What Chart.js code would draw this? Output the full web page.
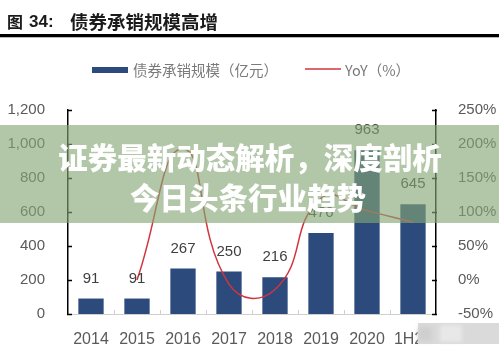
<!DOCTYPE html>
<html lang="zh-CN">
<head>
<meta charset="utf-8">
<title>债券承销规模高增</title>
<script src="https://cdn.jsdelivr.net/npm/chart.js@4.4.1/dist/chart.umd.min.js"></script>
<style>
  html, body { margin: 0; padding: 0; background: #fff; }
  #wrap { position: relative; width: 499px; height: 350px; }
</style>
</head>
<body>
<div id="wrap"><canvas id="bondChart" width="499" height="350"></canvas></div>
<script>
// data
const years = ['2014', '2015', '2016', '2017', '2018', '2019', '2020', '1H21'];
const issuance = [91, 91, 267, 250, 216, 476, 963, 645];   // 亿元
const yoy = [null, 0, 193, -6, -14, 120, 102, 85];          // %
const leftTicks = [0, 200, 400, 600, 800, 1000, 1200];
const rightTicks = [-50, 0, 50, 100, 150, 200, 250];

const NAVY = '#2d4a7c';
const RED = '#d2343e';
const CN = '"Noto Sans CJK SC", "Noto Sans", sans-serif';
const NUM = '"Liberation Sans", Arial, sans-serif';
const TICK_GREY = '#5a5a5a';

// titles, legend, value labels, tick marks and the caption band
const decor = {
    id: 'decor',
    afterDatasetsDraw(chart) {
        const ctx = chart.ctx;
        const area = chart.chartArea;
        ctx.save();

        // bar values
        const bars = chart.getDatasetMeta(0).data;
        ctx.font = '15px ' + NUM;
        ctx.fillStyle = '#3f3f3f';
        ctx.textAlign = 'center';
        ctx.textBaseline = 'middle';
        bars.forEach((bar, i) => ctx.fillText(issuance[i], bar.x, bar.y - 20));

        // short inward ticks on both value axes
        ctx.strokeStyle = '#000';
        ctx.lineWidth = 1.5;
        const yl = chart.scales.y, yr = chart.scales.y1;
        yl.ticks.forEach(t => {
            const p = Math.round(yl.getPixelForValue(t.value)) + 0.5;
            ctx.beginPath(); ctx.moveTo(area.left - 1, p); ctx.lineTo(area.left + 4, p); ctx.stroke();
        });
        yr.ticks.forEach(t => {
            const p = Math.round(yr.getPixelForValue(t.value)) + 0.5;
            ctx.beginPath(); ctx.moveTo(area.right - 4, p); ctx.lineTo(area.right + 1, p); ctx.stroke();
        });

        // category separators on the base line
        const xs = chart.scales.x;
        ctx.strokeStyle = '#cfcfcf';
        ctx.lineWidth = 1;
        for (let i = 1; i < years.length; i++) {
            const p = Math.round((xs.getPixelForValue(i - 1) + xs.getPixelForValue(i)) / 2) + 0.5;
            ctx.beginPath(); ctx.moveTo(p, area.bottom); ctx.lineTo(p, area.bottom - 4); ctx.stroke();
        }
        ctx.restore();
    },
    afterDraw(chart) {
        const ctx = chart.ctx;
        const W = chart.width;
        ctx.save();

        // heading
        ctx.fillStyle = '#1b1b1b';
        ctx.textBaseline = 'middle';
        ctx.textAlign = 'left';
        ctx.font = 'bold 16px ' + CN;
        ctx.fillText('图', 7, 22);
        ctx.font = 'bold 17px "Liberation Sans", Arial, sans-serif';
        ctx.fillText('34:', 29, 22);
        ctx.font = 'bold 18.5px ' + CN;
        ctx.fillText('债券承销规模高增', 70, 22);
        ctx.fillStyle = '#000';
        ctx.fillRect(0, 34, W, 3);
        ctx.fillStyle = '#b8b8b8';
        ctx.fillRect(0, 37, W, 1);

        // legend
        const ds = chart.data.datasets;
        ctx.fillStyle = ds[0].backgroundColor;
        ctx.fillRect(92, 67, 36, 6);
        ctx.fillStyle = '#7a7a7a';
        ctx.font = '14.5px ' + CN;
        ctx.fillText(ds[0].label, 133, 70);
        ctx.strokeStyle = ds[1].borderColor;
        ctx.lineWidth = 1.5;
        ctx.beginPath(); ctx.moveTo(305, 69); ctx.lineTo(341, 69); ctx.stroke();
        ctx.fillText(ds[1].label, 345, 70);

        // caption band over the middle of the plot
        ctx.fillStyle = 'rgba(132, 167, 116, 0.63)';
        ctx.fillRect(0, 125, W, 98);
        ctx.fillStyle = '#fff';
        ctx.textAlign = 'center';
        ctx.font = '900 29.5px ' + CN;
        ctx.fillText('证券最新动态解析，深度剖析', 250, 158);
        ctx.fillText('今日头条行业趋势', 248, 198);

        // smudged corner mark
        ctx.fillStyle = '#dadada';
        ctx.fillRect(418, 323, 81, 21);
        ctx.filter = 'blur(2px)';
        ctx.fillStyle = '#e8e8e8';
        ctx.fillRect(440, 325, 22, 17);
        ctx.fillStyle = '#cfcfcf';
        ctx.fillRect(418, 327, 14, 14);
        ctx.filter = 'none';
        ctx.restore();
    }
};

new Chart(document.getElementById('bondChart'), {
    type: 'bar',
    data: {
        labels: years,
        datasets: [{
            label: '债券承销规模（亿元）',
            data: issuance,
            backgroundColor: NAVY,
            categoryPercentage: 1,
            barPercentage: 0.55,
            yAxisID: 'y',
            order: 2
        }, {
            type: 'line',
            label: 'YoY（%）',
            data: yoy,
            borderColor: RED,
            borderWidth: 1.5,
            backgroundColor: RED,
            pointRadius: 0,
            tension: 0.5,
            yAxisID: 'y1',
            order: 1
        }]
    },
    options: {
        responsive: false,
        animation: false,
        devicePixelRatio: 1,
        layout: { padding: { top: 110, left: 0, right: 0, bottom: 0 } },
        plugins: {
            legend: { display: false },
            tooltip: { enabled: false }
        },
        scales: {
            x: {
                grid: { display: false },
                border: { color: '#cfcfcf', width: 1 },
                ticks: {
                    color: TICK_GREY, font: { family: NUM, size: 16 }, padding: 8,
                    maxRotation: 0, minRotation: 0, autoSkip: false
                },
                afterFit: s => { s.height = 36; }
            },
            y: {
                position: 'left',
                min: 0, max: 1200,
                afterBuildTicks: s => { s.ticks = leftTicks.map(v => ({ value: v })); },
                grid: { display: false },
                border: { color: '#000', width: 1.5 },
                ticks: {
                    color: TICK_GREY, font: { family: NUM, size: 15 }, padding: 15,
                    callback: v => v.toLocaleString('en-US')
                },
                afterFit: s => { s.width = 68; }
            },
            y1: {
                position: 'right',
                min: -50, max: 250,
                afterBuildTicks: s => { s.ticks = rightTicks.map(v => ({ value: v })); },
                grid: { display: false },
                border: { color: '#000', width: 1.5 },
                ticks: {
                    color: TICK_GREY, font: { family: NUM, size: 15 }, padding: 14,
                    callback: v => v + '%'
                },
                afterFit: s => { s.width = 63; }
            }
        }
    },
    plugins: [decor]
});
</script>
</body>
</html>
